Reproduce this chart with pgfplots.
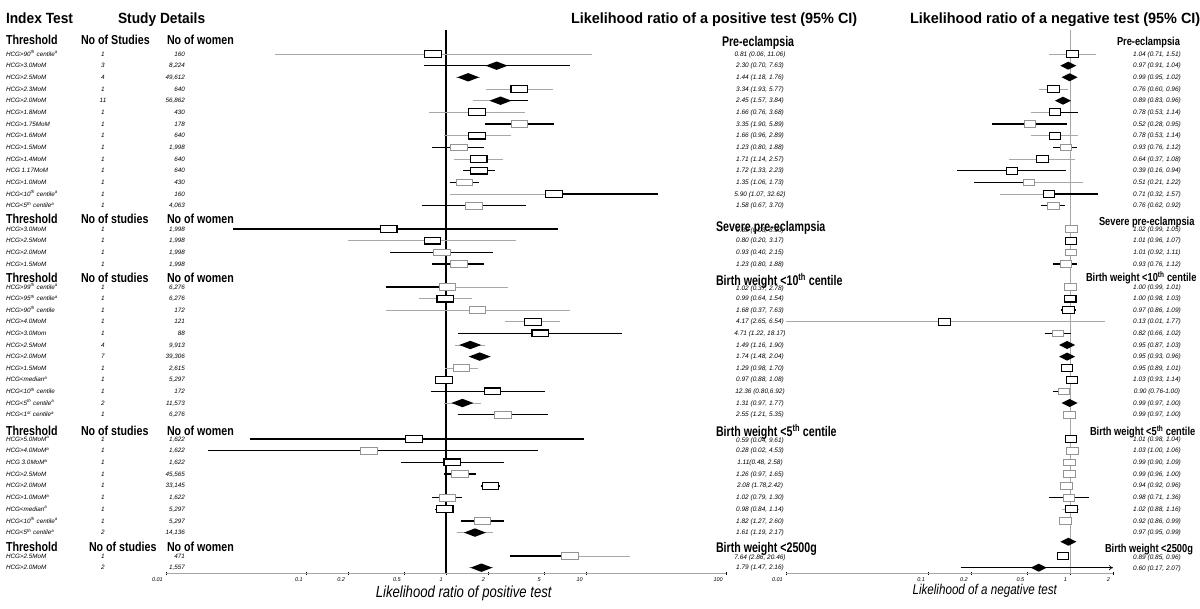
\documentclass[border=0pt]{standalone}
\usepackage{fontspec}
\setmainfont{Liberation Sans}
\usepackage{graphicx}
\usepackage{pgfplots}
\pgfplotsset{compat=1.18}
\usetikzlibrary{arrows.meta}

\pgfdeclareplotmark{lbox}{\pgfpathrectanglecorners{\pgfqpoint{-8.3pt}{-3.4pt}}{\pgfqpoint{8.3pt}{3.4pt}}\pgfusepathqfillstroke}
\pgfdeclareplotmark{rbox}{\pgfpathrectanglecorners{\pgfqpoint{-5.8pt}{-3.4pt}}{\pgfqpoint{5.8pt}{3.4pt}}\pgfusepathqfillstroke}
\pgfdeclareplotmark{ldia}{\pgfpathmoveto{\pgfqpoint{-11pt}{0pt}}\pgfpathlineto{\pgfqpoint{0pt}{4.2pt}}\pgfpathlineto{\pgfqpoint{11pt}{0pt}}\pgfpathlineto{\pgfqpoint{0pt}{-4.2pt}}\pgfpathclose\pgfusepathqfill}
\pgfdeclareplotmark{rdia}{\pgfpathmoveto{\pgfqpoint{-8pt}{0pt}}\pgfpathlineto{\pgfqpoint{0pt}{4pt}}\pgfpathlineto{\pgfqpoint{8pt}{0pt}}\pgfpathlineto{\pgfqpoint{0pt}{-4pt}}\pgfpathclose\pgfusepathqfill}

\definecolor{lg}{gray}{0.66}
\definecolor{bxg}{gray}{0.58}

\tikzset{
 glline/.style={draw=lg, line width=0.6pt, mark=none},
 blline/.style={draw=black, line width=1.4pt, mark=none},
}

\newcommand\sm{\fontsize{6.3}{7}\selectfont\itshape}
\newcommand\vs{\fontsize{6.5}{7}\selectfont\itshape}
\newcommand\ttl[1]{\scalebox{0.93}[1]{\fontsize{14.8}{15}\selectfont\bfseries #1}}
\newcommand\ttlw[1]{\scalebox{0.975}[1]{\fontsize{14.8}{15}\selectfont\bfseries #1}}
\newcommand\colh[1]{\scalebox{0.82}[1]{\fontsize{13}{13}\selectfont\bfseries #1}}
\newcommand\secL[1]{\scalebox{0.76}[1]{\fontsize{14}{14}\selectfont\bfseries #1}}
\newcommand\secR[1]{\scalebox{0.8}[1]{\fontsize{11.6}{12}\selectfont\bfseries #1}}
\newcommand\row[4]{%
 \node[anchor=base west] at (6,#1+2.2) {\sm #2};%
 \node[anchor=base] at (103,#1+2.2) {\sm #3};%
 \node[anchor=base east] at (185,#1+2.2) {\sm #4};}
\newcommand\lv[2]{\node[anchor=base] at (760,#1+2.2) {\vs #2};}
\newcommand\rv[2]{\node[anchor=base] at (1157,#1+2.2) {\vs #2};}
\newcommand\hdr[3]{%
 \node[anchor=base west] at (6,#1) {\colh{Threshold}};%
 \node[anchor=base west] at (#2,#1) {\colh{#3}};%
 \node[anchor=base west] at (167,#1) {\colh{No of women}};}
\newcommand\thh{\textsuperscript{th}}

\begin{document}
\begin{tikzpicture}
\useasboundingbox (0,0) rectangle (1200pt,-609pt);

% ---------------- left panel: LR+ ----------------
\begin{axis}[scale only axis, xmode=log, ymin=-573, ymax=-30,
   axis y line=none, axis x line*=bottom,
   x axis line style={-, draw=gray!70, line width=0.6pt},
   major tick length=3pt, tick align=center, tick style={black, line width=0.6pt},
   minor x tick num=0, clip=false,
   xticklabel style={font=\fontsize{5.5}{6}\selectfont\itshape, anchor=north east, inner sep=0pt, xshift=-3pt, yshift=-3pt},
  at={(166pt,-573pt)}, anchor=south west, width=560pt, height=543pt,
  xmin=0.01, xmax=100,
  xtick={0.01,0.1,0.2,0.5,1,2,5,10,100}, xticklabels={0.01,0.1,0.2,0.5,1,2,5,10,100}]
\addplot[black, line width=1.7pt, mark=none] coordinates {(1,-30) (1,-573)};
% gray thin CIs
\addplot[glline] coordinates {(0.06,-54) (11.06,-54)};
\addplot[glline] coordinates {(1.18,-77.3) (1.76,-77.3)};
\addplot[glline] coordinates {(1.93,-89) (5.77,-89)};
\addplot[glline] coordinates {(1.57,-100.7) (2.45,-100.7)};
\addplot[glline] coordinates {(0.76,-112.3) (3.68,-112.3)};
\addplot[glline] coordinates {(0.96,-135.7) (2.89,-135.7)};
\addplot[glline] coordinates {(1.14,-159) (2.57,-159)};
\addplot[glline] coordinates {(1.07,-194) (5.90,-194)};
\addplot[glline] coordinates {(0.20,-240.7) (3.17,-240.7)};
\addplot[glline] coordinates {(1.02,-287) (2.78,-287)};
\addplot[glline] coordinates {(0.64,-298.6) (1.54,-298.6)};
\addplot[glline] coordinates {(0.37,-310.2) (7.63,-310.2)};
\addplot[glline] coordinates {(2.65,-321.8) (6.54,-321.8)};
\addplot[glline] coordinates {(1.16,-345) (1.90,-345)};
\addplot[glline] coordinates {(1.48,-356.6) (2.04,-356.6)};
\addplot[glline] coordinates {(0.98,-368.2) (1.70,-368.2)};
\addplot[glline] coordinates {(0.97,-403) (1.77,-403)};
\addplot[glline] coordinates {(1.19,-532.6) (2.17,-532.6)};
\addplot[glline] coordinates {(7.64,-556) (20.46,-556)};
\addplot[glline] coordinates {(1.47,-567.7) (2.16,-567.7)};
% black thick CIs
\addplot[blline] coordinates {(0.70,-65.7) (7.63,-65.7)};
\addplot[blline] coordinates {(2.45,-100.7) (3.84,-100.7)};
\addplot[blline] coordinates {(1.90,-124) (5.89,-124)};
\addplot[blline] coordinates {(0.80,-147.3) (1.88,-147.3)};
\addplot[blline] coordinates {(1.33,-170.7) (2.23,-170.7)};
\addplot[blline] coordinates {(1.06,-182.3) (1.73,-182.3)};
\addplot[blline] coordinates {(5.90,-194) (32.62,-194)};
\addplot[blline] coordinates {(0.67,-205.7) (3.70,-205.7)};
\addplot[blline] coordinates {(0.03,-229) (6.30,-229)};
\addplot[blline] coordinates {(0.40,-252.3) (2.15,-252.3)};
\addplot[blline] coordinates {(0.80,-264) (1.88,-264)};
\addplot[blline] coordinates {(0.37,-287) (1.02,-287)};
\addplot[blline] coordinates {(1.22,-333.4) (18.17,-333.4)};
\addplot[blline] coordinates {(0.88,-379.8) (1.08,-379.8)};
\addplot[blline] coordinates {(0.78,-391.4) (5.10,-391.4)};
\addplot[blline] coordinates {(1.21,-414.6) (5.35,-414.6)};
\addplot[blline] coordinates {(0.04,-439) (9.61,-439)};
\addplot[blline] coordinates {(0.02,-450.7) (4.53,-450.7)};
\addplot[blline] coordinates {(0.48,-462.4) (2.58,-462.4)};
\addplot[blline] coordinates {(0.97,-474.1) (1.65,-474.1)};
\addplot[blline] coordinates {(1.78,-485.8) (2.42,-485.8)};
\addplot[blline] coordinates {(0.79,-497.5) (1.30,-497.5)};
\addplot[blline] coordinates {(0.84,-509.2) (1.14,-509.2)};
\addplot[blline] coordinates {(1.27,-520.9) (2.60,-520.9)};
\addplot[blline] coordinates {(2.86,-556) (7.64,-556)};
% boxes
\addplot[only marks, mark=lbox, mark options={draw=black, fill=white, line width=1.2pt}] coordinates {(0.81,-54) (3.34,-89) (1.66,-112.3) (1.66,-135.7) (1.71,-159) (1.72,-170.7) (5.90,-194)
  (0.39,-229) (0.80,-240.7) (0.99,-298.6) (4.17,-321.8) (4.71,-333.4) (0.97,-379.8) (2.15,-391.4)
  (0.59,-439) (1.11,-462.4) (2.08,-485.8) (0.98,-509.2)};
\addplot[only marks, mark=lbox, mark options={draw=bxg, fill=white, line width=0.7pt}] coordinates {(3.35,-124) (1.23,-147.3) (1.35,-182.3) (1.58,-205.7) (0.93,-252.3) (1.23,-264)
  (1.02,-287) (1.68,-310.2) (1.29,-368.2) (2.55,-414.6) (0.28,-450.7) (1.26,-474.1) (1.02,-497.5)
  (1.82,-520.9) (7.64,-556)};
% pooled diamonds
\addplot[only marks, mark=ldia, mark options={fill=black, draw=none}] coordinates {(2.30,-65.7) (1.44,-77.3) (2.45,-100.7)
  (1.49,-345) (1.74,-356.6) (1.31,-403) (1.61,-532.6) (1.79,-567.7)};
\end{axis}

% ---------------- right panel: LR- ----------------
\begin{axis}[scale only axis, xmode=log, ymin=-573, ymax=-30,
   axis y line=none, axis x line*=bottom,
   x axis line style={-, draw=gray!70, line width=0.6pt},
   major tick length=3pt, tick align=center, tick style={black, line width=0.6pt},
   minor x tick num=0, clip=false,
   xticklabel style={font=\fontsize{5.5}{6}\selectfont\itshape, anchor=north east, inner sep=0pt, xshift=-3pt, yshift=-3pt},
  at={(786pt,-573pt)}, anchor=south west, width=327pt, height=543pt,
  xmin=0.01, xmax=2,
  xtick={0.01,0.1,0.2,0.5,1,2}, xticklabels={0.01,0.1,0.2,0.5,1,2}]
\addplot[gray!70, line width=0.7pt, mark=none] coordinates {(1,-30) (1,-573)};
% gray thin CIs
\addplot[glline] coordinates {(0.71,-54) (1.51,-54)};
\addplot[glline] coordinates {(0.60,-89) (0.96,-89)};
\addplot[glline] coordinates {(0.53,-112.3) (0.78,-112.3)};
\addplot[glline] coordinates {(0.53,-135.7) (1.14,-135.7)};
\addplot[glline] coordinates {(0.37,-159) (1.08,-159)};
\addplot[glline] coordinates {(0.51,-182.3) (1.22,-182.3)};
\addplot[glline] coordinates {(0.32,-194) (0.71,-194)};
\addplot[glline] coordinates {(0.96,-240.7) (1.07,-240.7)};
\addplot[glline] coordinates {(0.01,-321.8) (1.77,-321.8)};
\addplot[glline] coordinates {(0.88,-509.2) (1.16,-509.2)};
% black thick CIs
\addplot[blline] coordinates {(0.78,-112.3) (1.14,-112.3)};
\addplot[blline] coordinates {(0.28,-124) (0.95,-124)};
\addplot[blline] coordinates {(0.76,-147.3) (1.12,-147.3)};
\addplot[blline] coordinates {(0.16,-170.7) (0.94,-170.7)};
\addplot[blline] coordinates {(0.21,-182.3) (0.51,-182.3)};
\addplot[blline] coordinates {(0.71,-194) (1.57,-194)};
\addplot[blline] coordinates {(0.62,-205.7) (0.92,-205.7)};
\addplot[blline] coordinates {(0.99,-229) (1.05,-229)};
\addplot[blline] coordinates {(0.92,-252.3) (1.11,-252.3)};
\addplot[blline] coordinates {(0.76,-264) (1.12,-264)};
\addplot[blline] coordinates {(0.86,-310.2) (1.09,-310.2)};
\addplot[blline] coordinates {(0.66,-333.4) (1.02,-333.4)};
\addplot[blline] coordinates {(0.93,-379.8) (1.14,-379.8)};
\addplot[blline] coordinates {(0.76,-391.4) (1.00,-391.4)};
\addplot[blline] coordinates {(0.98,-439) (1.04,-439)};
\addplot[blline] coordinates {(1.00,-450.7) (1.06,-450.7)};
\addplot[blline] coordinates {(0.90,-462.4) (1.09,-462.4)};
\addplot[blline] coordinates {(0.92,-485.8) (0.96,-485.8)};
\addplot[blline] coordinates {(0.71,-497.5) (1.36,-497.5)};
\addplot[blline] coordinates {(0.86,-520.9) (0.99,-520.9)};
\addplot[blline] coordinates {(0.85,-556) (0.96,-556)};
\addplot[blline] coordinates {(0.17,-567.7) (0.60,-567.7)};
\addplot[black, line width=0.7pt, mark=none, -{To[length=4pt,width=5pt]}] coordinates {(0.60,-567.7) (2,-567.7)};
% boxes
\addplot[only marks, mark=rbox, mark options={draw=black, fill=white, line width=1.1pt}] coordinates {(1.04,-54) (0.76,-89) (0.78,-112.3) (0.78,-135.7) (0.64,-159) (0.39,-170.7) (0.71,-194)
  (1.01,-240.7) (1.00,-298.6) (0.97,-310.2) (0.13,-321.8) (0.95,-368.2) (1.03,-379.8)
  (1.01,-439) (1.02,-509.2) (0.89,-556)};
\addplot[only marks, mark=rbox, mark options={draw=bxg, fill=white, line width=0.7pt}] coordinates {(0.52,-124) (0.93,-147.3) (0.51,-182.3) (0.76,-205.7) (1.02,-229) (1.01,-252.3) (0.93,-264)
  (1.00,-287) (0.82,-333.4) (0.90,-391.4) (0.99,-414.6)
  (1.03,-450.7) (0.99,-462.4) (0.99,-474.1) (0.94,-485.8) (0.98,-497.5) (0.92,-520.9)};
% pooled diamonds
\addplot[only marks, mark=rdia, mark options={fill=black, draw=none}] coordinates {(0.97,-65.7) (0.99,-77.3) (0.89,-100.7)
  (0.95,-345) (0.95,-356.6) (0.99,-403) (0.97,-541.7) (0.60,-567.7)};
\end{axis}

% ---------------- texts ----------------
\begin{scope}[x=1pt, y=-1pt, every node/.style={inner sep=0pt, outer sep=0pt}]
\node[anchor=base west] at (6,23.3) {\ttl{Index Test}};
\node[anchor=base west] at (118,23.3) {\ttl{Study Details}};
\node[anchor=base west] at (571,23.3) {\ttlw{Likelihood ratio of a positive test (95\% CI)}};
\node[anchor=base west] at (910,23.3) {\ttlw{Likelihood ratio of a negative test (95\% CI)}};

\hdr{44.5}{81}{No of Studies}
\hdr{223.8}{81}{No of studies}
\hdr{283}{81}{No of studies}
\hdr{435.3}{81}{No of studies}
\hdr{551}{89}{No of studies}

% section labels, left (LR+) and right (LR-)
\node[anchor=base west] at (722,46.5) {\secL{Pre-eclampsia}};
\node[anchor=base west] at (716,231.4) {\secL{Severe pre-eclampsia}};
\node[anchor=base west] at (716,285.7) {\secL{Birth weight <10\textsuperscript{th} centile}};
\node[anchor=base west] at (716,436.4) {\secL{Birth weight <5\textsuperscript{th} centile}};
\node[anchor=base west] at (716,552.4) {\secL{Birth weight <2500g}};
\node[anchor=base west] at (1117,45.7) {\secR{Pre-eclampsia}};
\node[anchor=base west] at (1099,225.7) {\secR{Severe pre-eclampsia}};
\node[anchor=base west] at (1086,282) {\secR{Birth weight <10\textsuperscript{th} centile}};
\node[anchor=base west] at (1090,436) {\secR{Birth weight <5\textsuperscript{th} centile}};
\node[anchor=base west] at (1105,552.3) {\secR{Birth weight <2500g}};

% Pre-eclampsia
\row{54}{HCG>90\thh{} centile\textsuperscript{a}}{1}{160}
\row{65.7}{HCG>3.0MoM}{3}{8,224}
\row{77.3}{HCG>2.5MoM}{4}{49,612}
\row{89}{HCG>2.3MoM}{1}{640}
\row{100.7}{HCG>2.0MoM}{11}{56,862}
\row{112.3}{HCG>1.8MoM}{1}{430}
\row{124}{HCG>1.75MoM}{1}{178}
\row{135.7}{HCG>1.6MoM}{1}{640}
\row{147.3}{HCG>1.5MoM}{1}{1,998}
\row{159}{HCG>1.4MoM}{1}{640}
\row{170.7}{HCG 1.17MoM}{1}{640}
\row{182.3}{HCG>1.0MoM}{1}{430}
\row{194}{HCG<10\thh{} centile\textsuperscript{a}}{1}{160}
\row{205.7}{HCG<5\thh{} centile\textsuperscript{a}}{1}{4,063}
% Severe
\row{229}{HCG>3.0MoM}{1}{1,998}
\row{240.7}{HCG>2.5MoM}{1}{1,998}
\row{252.3}{HCG>2.0MoM}{1}{1,998}
\row{264}{HCG>1.5MoM}{1}{1,998}
% BW<10th
\row{287}{HCG>99\thh{} centile\textsuperscript{a}}{1}{6,276}
\row{298.6}{HCG>95\thh{} centile\textsuperscript{a}}{1}{6,276}
\row{310.2}{HCG>90\thh{} centile}{1}{172}
\row{321.8}{HCG>4.0MoM}{1}{121}
\row{333.4}{HCG>3.0Mom}{1}{88}
\row{345}{HCG>2.5MoM}{4}{9,913}
\row{356.6}{HCG>2.0MoM}{7}{39,306}
\row{368.2}{HCG>1.5MoM}{1}{2,615}
\row{379.8}{HCG<median\textsuperscript{a}}{1}{5,297}
\row{391.4}{HCG<10\thh{} centile}{1}{172}
\row{403}{HCG<5\thh{} centile\textsuperscript{a}}{2}{11,573}
\row{414.6}{HCG<1\textsuperscript{st} centile\textsuperscript{a}}{1}{6,276}
% BW<5th
\row{439}{HCG>5.0MoM\textsuperscript{a}}{1}{1,622}
\row{450.7}{HCG>4.0MoM\textsuperscript{a}}{1}{1,622}
\row{462.4}{HCG 3.0MoM\textsuperscript{a}}{1}{1,622}
\row{474.1}{HCG>2.5MoM}{1}{45,565}
\row{485.8}{HCG>2.0MoM}{1}{33,145}
\row{497.5}{HCG>1.0MoM\textsuperscript{a}}{1}{1,622}
\row{509.2}{HCG<median\textsuperscript{a}}{1}{5,297}
\row{520.9}{HCG<10\thh{} centile\textsuperscript{a}}{1}{5,297}
\row{532.6}{HCG<5\thh{} centile\textsuperscript{a}}{2}{14,136}
% BW<2500g
\row{556}{HCG>2.5MoM}{1}{471}
\row{567.7}{HCG>2.0MoM}{2}{1,557}

% LR+ values
\lv{54}{0.81 (0.06, 11.06)}
\lv{65.7}{2.30 (0.70, 7.63)}
\lv{77.3}{1.44 (1.18, 1.76)}
\lv{89}{3.34 (1.93, 5.77)}
\lv{100.7}{2.45 (1.57, 3.84)}
\lv{112.3}{1.66 (0.76, 3.68)}
\lv{124}{3.35 (1.90, 5.89)}
\lv{135.7}{1.66 (0.96, 2.89)}
\lv{147.3}{1.23 (0.80, 1.88)}
\lv{159}{1.71 (1.14, 2.57)}
\lv{170.7}{1.72 (1.33, 2.23)}
\lv{182.3}{1.35 (1.06, 1.73)}
\lv{194}{5.90 (1.07, 32.62)}
\lv{205.7}{1.58 (0.67, 3.70)}
\lv{230.5}{0.39 (0.03, 6.30)}
\lv{240.7}{0.80 (0.20, 3.17)}
\lv{252.3}{0.93 (0.40, 2.15)}
\lv{264}{1.23 (0.80, 1.88)}
\lv{288}{1.02 (0.37, 2.78)}
\lv{298.6}{0.99 (0.64, 1.54)}
\lv{310.2}{1.68 (0.37, 7.63)}
\lv{321.8}{4.17 (2.65, 6.54)}
\lv{333.4}{4.71 (1.22, 18.17)}
\lv{345}{1.49 (1.16, 1.90)}
\lv{356.6}{1.74 (1.48, 2.04)}
\lv{368.2}{1.29 (0.98, 1.70)}
\lv{379.8}{0.97 (0.88, 1.08)}
\lv{391.4}{12.36 (0.80,6.92)}
\lv{403}{1.31 (0.97, 1.77)}
\lv{414.6}{2.55 (1.21, 5.35)}
\lv{440}{0.59 (0.04, 9.61)}
\lv{450.7}{0.28 (0.02, 4.53)}
\lv{462.4}{1.11(0.48, 2.58)}
\lv{474.1}{1.26 (0.97, 1.65)}
\lv{485.8}{2.08 (1.78,2.42)}
\lv{497.5}{1.02 (0.79, 1.30)}
\lv{509.2}{0.98 (0.84, 1.14)}
\lv{520.9}{1.82 (1.27, 2.60)}
\lv{532.6}{1.61 (1.19, 2.17)}
\lv{557}{7.64 (2.86, 20.46)}
\lv{567.7}{1.79 (1.47, 2.16)}

% LR- values
\rv{54}{1.04 (0.71, 1.51)}
\rv{65.7}{0.97 (0.91, 1.04)}
\rv{77.3}{0.99 (0.95, 1.02)}
\rv{89}{0.76 (0.60, 0.96)}
\rv{100.7}{0.89 (0.83, 0.96)}
\rv{112.3}{0.78 (0.53, 1.14)}
\rv{124}{0.52 (0.28, 0.95)}
\rv{135.7}{0.78 (0.53, 1.14)}
\rv{147.3}{0.93 (0.76, 1.12)}
\rv{159}{0.64 (0.37, 1.08)}
\rv{170.7}{0.39 (0.16, 0.94)}
\rv{182.3}{0.51 (0.21, 1.22)}
\rv{194}{0.71 (0.32, 1.57)}
\rv{205.7}{0.76 (0.62, 0.92)}
\rv{229.5}{1.02 (0.99, 1.05)}
\rv{240.7}{1.01 (0.96, 1.07)}
\rv{252.3}{1.01 (0.92, 1.11)}
\rv{264}{0.93 (0.76, 1.12)}
\rv{287.5}{1.00 (0.99, 1.01)}
\rv{298.6}{1.00 (0.98, 1.03)}
\rv{310.2}{0.97 (0.86, 1.09)}
\rv{321.8}{0.13 (0.01, 1.77)}
\rv{333.4}{0.82 (0.66, 1.02)}
\rv{345}{0.95 (0.87, 1.03)}
\rv{356.6}{0.95 (0.93, 0.96)}
\rv{368.2}{0.95 (0.89, 1.01)}
\rv{379.8}{1.03 (0.93, 1.14)}
\rv{391.4}{0.90 (0.76-1.00)}
\rv{403}{0.99 (0.97, 1.00)}
\rv{414.6}{0.99 (0.97, 1.00)}
\rv{439.5}{1.01 (0.98, 1.04)}
\rv{450.7}{1.03 (1.00, 1.06)}
\rv{462.4}{0.99 (0.90, 1.09)}
\rv{474.1}{0.99 (0.96, 1.00)}
\rv{485.8}{0.94 (0.92, 0.96)}
\rv{497.5}{0.98 (0.71, 1.36)}
\rv{509.2}{1.02 (0.88, 1.16)}
\rv{520.9}{0.92 (0.86, 0.99)}
\rv{532.6}{0.97 (0.95, 0.99)}
\rv{557.5}{0.89 (0.85, 0.96)}
\rv{568}{0.60 (0.17, 2.07)}

% axis titles
\node[anchor=base] at (463.7,597) {\scalebox{0.82}[1]{\fontsize{16}{16}\selectfont\itshape Likelihood ratio of positive test}};
\node[anchor=base] at (984.7,594) {\scalebox{0.82}[1]{\fontsize{14.2}{15}\selectfont\itshape Likelihood of a negative test}};
\end{scope}
\end{tikzpicture}
\end{document}
